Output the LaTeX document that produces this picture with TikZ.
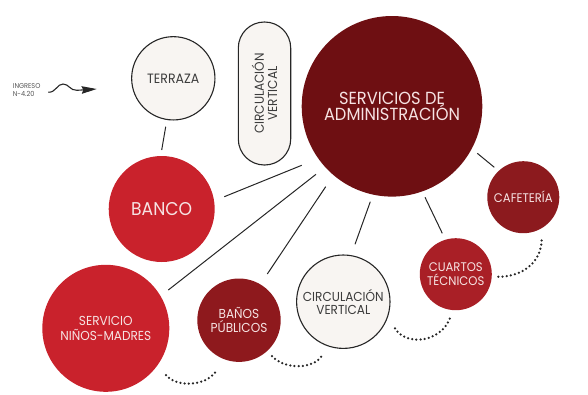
\documentclass[tikz,border=0pt]{standalone}
\usepackage{fontspec}
\setmainfont{Poppins}[FakeStretch=0.93]
\usetikzlibrary{calc,arrows.meta}
\definecolor{cadm}{HTML}{6E0F12}
\definecolor{ccafe}{HTML}{8C1A1E}
\definecolor{ccuartos}{HTML}{A91F26}
\definecolor{cbanco}{HTML}{C9222C}
\definecolor{cbanos}{HTML}{8E191D}
\definecolor{cpale}{HTML}{F8F5F2}
\definecolor{cedge}{HTML}{262626}
\definecolor{ctxtlight}{HTML}{F6E3E3}
\definecolor{ctxtdark}{HTML}{3C3C3C}
\definecolor{cgray}{HTML}{555555}
\tikzset{
  bubble/.style={circle, inner sep=0pt, align=center, text=ctxtlight},
  pale/.style={bubble, fill=cpale, draw=cedge, line width=1.1pt, text=ctxtdark},
  spoke/.style={draw=cedge, line width=1pt},
  dotline/.style={draw=cedge, line width=2.5pt, line cap=round, dash pattern=on 0pt off 4.2pt},
}
\newcommand{\fs}[2]{\fontsize{#1}{#2}\selectfont}
\begin{document}
\begin{tikzpicture}[x=1pt,y=-1pt]
\useasboundingbox (0,0) rectangle (588,394);

% nodes
\node[bubble, fill=cadm, minimum size=180.6pt, font=\fs{17.5}{16.5}] (adm) at (392,106.3) {SERVICIOS DE\\ADMINISTRACIÓN};
\node[pale, minimum size=83.3pt, font=\fs{13.5}{14}] (terraza) at (173.3,78.3) {TERRAZA};
\node[draw=cedge, fill=cpale, line width=1.1pt, rounded corners=26pt, minimum width=52.4pt, minimum height=143pt, inner sep=0pt] (pill) at (264.5,93.5) {};
\node[rotate=90, align=center, text=ctxtdark, font=\fs{13}{13.3}] (pilltext) at (pill.center) {CIRCULACIÓN\\VERTICAL};
\node[bubble, fill=cbanco, minimum size=106pt, font=\fs{18.5}{18}] (banco) at (161.7,209) {BANCO};
\node[bubble, fill=cbanco, minimum size=127pt, font=\fs{13}{15}] (ninos) at (105.8,328.3) {SERVICIO\\NIÑOS-MADRES};
\node[bubble, fill=cbanos, minimum size=83.4pt, font=\fs{13}{14}] (banos) at (239,320.2) {BAÑOS\\PÚBLICOS};
\node[pale, minimum size=93.4pt, font=\fs{13}{13.3}] (circ) at (343.3,301.7) {CIRCULACIÓN\\VERTICAL};
\node[bubble, fill=ccuartos, minimum size=72pt, font=\fs{12.5}{13.3}] (cuartos) at (455.8,274.2) {CUARTOS\\TÉCNICOS};
\node[bubble, fill=ccafe, minimum size=72pt, font=\fs{12.5}{13}] (cafe) at (523.3,197.2) {CAFETERÍA};

% ingreso
\node[anchor=west, align=left, text=cgray, font=\fs{7}{8.6}, inner sep=0pt] (ingreso) at (12.7,90) {INGRESO\\N-4.20};
\coordinate (in0) at (48.3,92.3);
\coordinate (in1) at (96.7,89);
\draw[cedge, line width=1.1pt, -{Stealth[length=15pt,width=7.5pt,inset=1.5pt]}]
  (in0) .. controls (56,92.5) and (57,84) .. (63,84)
  .. controls (69,84) and (70,90.7) .. (77,90.3) -- (in1);

% spokes
\draw[spoke] ($(terraza)+(-7.6,48.4)$) -- ($(banco)+(0,-59)$);
\draw[spoke] ($(adm)+(-90.3,59)$) -- ($(banco)+(62.6,-12.3)$);
\draw[spoke] ($(adm)+(-76,68)$) -- ($(ninos)+(62.5,-38.3)$);
\draw[spoke] ($(adm)+(-66.3,80.4)$) -- ($(banos)+(28.3,-46.2)$);
\draw[spoke] ($(adm)+(-21.7,95.4)$) -- ($(circ)+(11.7,-57.4)$);
\draw[spoke] ($(adm)+(33,91)$) -- ($(cuartos)+(-13.5,-40.9)$);
\draw[spoke] ($(adm)+(85.3,47)$) -- ($(cafe)+(-29,-29.9)$);

% dotted arcs
\draw[dotline] ($(ninos)+(60.2,46.7)$) .. controls ($(ninos)+(69.2,58.7)$) and ($(ninos)+(99.2,58.7)$) .. ($(banos)+(-23.3,51.5)$);
\draw[dotline] ($(banos)+(33,35.8)$) .. controls ($(banos)+(45,49.8)$) and ($(banos)+(77,49.8)$) .. ($(circ)+(-20,51.6)$);
\draw[dotline] ($(circ)+(51.7,26.6)$) .. controls ($(circ)+(60.7,43.3)$) and ($(circ)+(96.7,43.3)$) .. ($(cuartos)+(-5.1,42.5)$);
\draw[dotline] ($(cuartos)+(42.5,2.5)$) .. controls ($(cuartos)+(64.2,2.8)$) and ($(cafe)+(18.7,66.8)$) .. ($(cafe)+(18.4,41.1)$);
\end{tikzpicture}
\end{document}
